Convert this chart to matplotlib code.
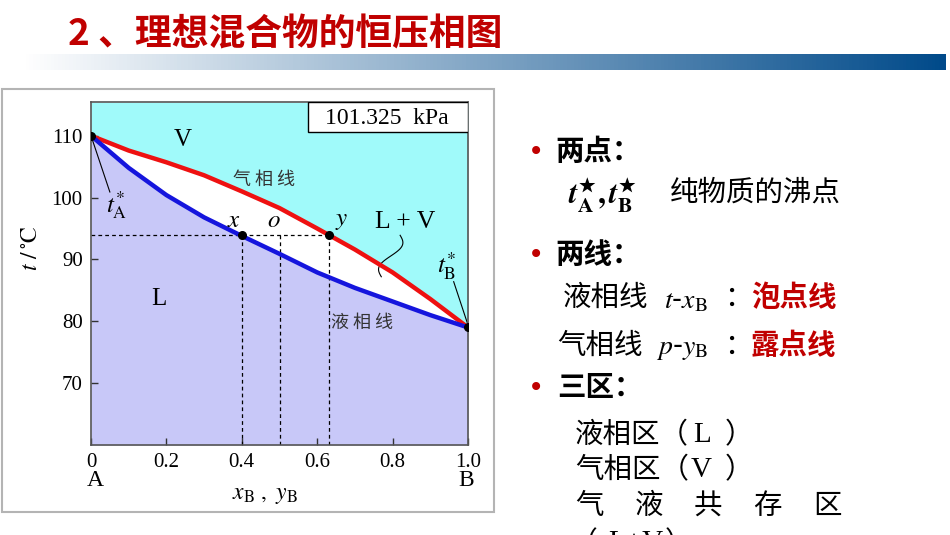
import matplotlib
matplotlib.use("Agg")
import matplotlib.pyplot as plt
import numpy as np
from matplotlib.colors import LinearSegmentedColormap
from matplotlib.patches import Rectangle

plt.rcParams['mathtext.fontset'] = 'stix'

# data
x_B = [0, 0.1, 0.2, 0.3, 0.4, 0.5, 0.6, 0.7, 0.8, 0.9, 1.0]
t_liquid = [110, 104.8, 100.4, 96.8, 93.8, 90.9, 87.9, 85.4, 83.2, 81.0, 79.0]
t_vapour = [110, 107.6, 105.7, 103.6, 101.0, 98.3, 95.0, 91.6, 87.9, 83.6, 79.0]
t_boil = [110, 79.0]            # t_A*, t_B*
x_point, o_point, y_point = 0.4, 0.5, 0.63
t_tie = 94
y_ticks = [70, 80, 90, 100, 110]
x_ticks = [0, 0.2, 0.4, 0.6, 0.8, 1.0]
x_tick_labels = ['0', '0.2', '0.4', '0.6', '0.8', '1.0']

W, H = 950, 535
fig = plt.figure(figsize=(9.5, 5.35), dpi=100)
fig.patch.set_facecolor('white')


def fx(px):
    return px / W


def fy(py):
    return 1 - py / H


CJK = 'Noto Sans CJK SC'
SERIF = 'Liberation Serif'

# ---- title + gradient bar
fig.text(fx(68), fy(35), '2 、理想混合物的恒压相图', family=CJK, weight='black',
         size=26.5, color='#c00000', va='center', ha='left')
bar = fig.add_axes([fx(22), fy(70), fx(945 - 22), 16 / H])
cmap = LinearSegmentedColormap.from_list('bar', ['#ffffff', '#004a8a'])
bar.imshow(np.linspace(0, 1, 256)[None, :], aspect='auto', cmap=cmap)
bar.axis('off')

# ---- frame around the picture
fig.patches.append(Rectangle((fx(2), fy(512)), fx(492), (512 - 89) / H,
                             transform=fig.transFigure, fill=False,
                             edgecolor='#b4b4b4', lw=1.5))

# ---- phase diagram
ax = fig.add_axes([fx(91), fy(445), fx(468 - 91), (445 - 102.3) / H])
ymin, ymax = 60, 115.4
ax.set_xlim(0, 1)
ax.set_ylim(ymin, ymax)

xs = np.array(x_B)
ax.fill_between(xs, t_vapour, ymax, color='#a0fafa', lw=0, zorder=0)
ax.fill_between(xs, ymin, t_liquid, color='#c8c8f8', lw=0, zorder=0)
ax.fill_between(xs, t_liquid, t_vapour, color='white', lw=0, zorder=0)

ax.plot(x_B, t_vapour, color='#ee1111', lw=3.2, zorder=3)
ax.plot(x_B, t_liquid, color='#1515dd', lw=3.2, zorder=3)

# tie line
dash = dict(color='black', lw=0.9, ls=(0, (3, 2.5)), zorder=2)
ax.plot([0, y_point], [t_tie, t_tie], **dash)
for xv in (x_point, o_point, y_point):
    ax.plot([xv, xv], [ymin, t_tie], **dash)

ax.plot([0, 1], t_boil, 'o', color='black', ms=5.5, zorder=4, ls='none')
ax.plot([x_point, y_point], [t_tie, t_tie], 'o', color='black', ms=5.5, zorder=4)

# pressure box
ax.add_patch(Rectangle((0.576, 0.913), 0.424, 0.087, transform=ax.transAxes,
                       facecolor='white', edgecolor='black', lw=1, zorder=5))
ax.text(0.785, 0.953, '101.325  kPa', transform=ax.transAxes, family=SERIF,
        size=17, ha='center', va='center', zorder=6)

# region labels
ax.text(0.243, 109.3, 'V', family=SERIF, size=18, ha='center', va='center')
ax.text(0.179, 83.6, 'L', family=SERIF, size=18, ha='center', va='center')
ax.text(0.833, 96.1, 'L + V', family=SERIF, size=18.5, ha='center', va='center')
ax.text(0.46, 102.8, '气 相 线', family=CJK, size=13, color='#333333',
        ha='center', va='center')
ax.text(0.72, 79.8, '液 相 线', family=CJK, size=13, color='#333333',
        ha='center', va='center')
ax.text(0.378, 96.3, '$x$', size=18, ha='center', va='center')
ax.text(0.485, 96.3, '$o$', size=18, ha='center', va='center')
ax.text(0.665, 96.3, '$y$', size=18, ha='center', va='center')
ax.text(0.068, 98.8, r'$t_{\mathrm{A}}^{*}$', size=18, ha='center', va='center')
ax.text(0.943, 88.9, r'$t_{\mathrm{B}}^{*}$', size=18, ha='center', va='center')

# leader lines
ax.plot([0, 0.05], [110, 100.9], color='black', lw=0.8, zorder=2)
ax.plot([0.962, 1.0], [86.4, 79.4], color='black', lw=0.8, zorder=2)
sq = np.linspace(0, 1, 60)
sq_x = 0.82 - 0.05 * sq + 0.018 * np.sin(sq * 2 * np.pi * 1.0)
sq_t = 93.9 - 6.7 * sq
ax.plot(sq_x, sq_t, color='black', lw=0.8, zorder=2)

# axes styling
for s in ax.spines.values():
    s.set_color('#555555')
    s.set_linewidth(1.2)
ax.set_yticks(y_ticks)
ax.set_xticks(x_ticks)
ax.set_xticklabels(x_tick_labels)
ax.tick_params(direction='in', length=5, width=1, color='#333333',
               labelsize=15)
ax.tick_params(axis='y', pad=6)
ax.tick_params(axis='x', pad=6)
for lab in ax.get_xticklabels() + ax.get_yticklabels():
    lab.set_family(SERIF)
ax.text(0.01, -0.105, 'A', transform=ax.transAxes, family=SERIF, size=17,
        ha='center', va='center')
ax.text(0.995, -0.105, 'B', transform=ax.transAxes, family=SERIF, size=17,
        ha='center', va='center')
fig.text(fx(265), fy(494), r'$x_{\mathrm{B}}\ ,\ y_{\mathrm{B}}$', size=17,
         ha='center', va='center')
fig.text(fx(30), fy(248), r'$t\ /\,^{\circ}\mathrm{C}$', size=17,
         rotation=90, ha='center', va='center')

# ---- right side notes
def note(px, py, s, size=20.5, **kw):
    kw.setdefault('family', CJK)
    fig.text(fx(px), fy(py), s, size=size, ha='left', va='center', **kw)


for by in (152, 255, 388):
    fig.text(fx(536), fy(by), '•', size=20, color='#c00000', family='DejaVu Sans',
             ha='center', va='center')
note(555, 152, '两点：', weight='bold')
note(568, 195, r'$\boldsymbol{t}_{\mathbf{A}}^{\bigstar}\boldsymbol{,}\,\boldsymbol{t}_{\mathbf{B}}^{\bigstar}$',
     size=22, family='DejaVu Sans')
note(670, 193, '纯物质的沸点')
note(555, 255, '两线：', weight='bold')
note(563, 298, '液相线')
note(664, 300, r'$t$-$x_{\mathrm{B}}$', size=20, family='DejaVu Sans')
note(724, 298, '：')
note(751, 298, '泡点线', weight='bold', color='#c00000')
note(557, 346, '气相线')
note(656, 348, r'$p$-$y_{\mathrm{B}}$', size=20, family='DejaVu Sans')
note(724, 346, '：')
note(751, 346, '露点线', weight='bold', color='#c00000')
note(557, 388, '三区：', weight='bold')
note(575, 435, '液相区（')
note(693, 435, 'L', family=SERIF, size=21)
note(725, 435, '）')
note(575, 470, '气相区（')
note(691, 470, 'V', family=SERIF, size=21)
note(725, 470, '）')
for i, ch in enumerate('气液共存区'):
    note(575 + i * 59.5, 506, ch)
note(570, 543, '（', size=20)
note(608, 543, 'L+V', family=SERIF, size=21)
note(665, 543, '）', size=20)

fig.savefig('out.png', dpi=100)
